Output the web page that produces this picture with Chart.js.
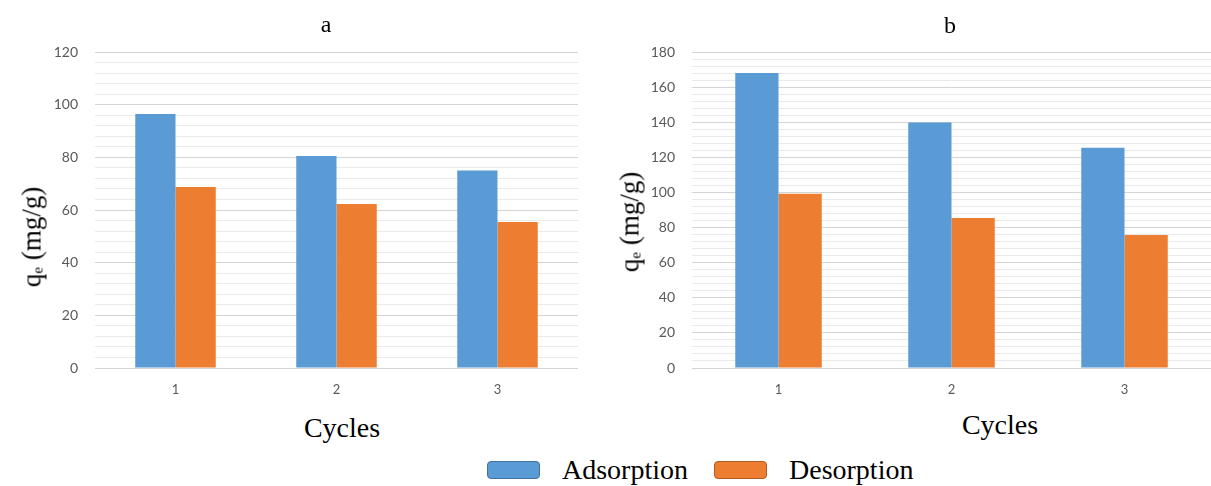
<!DOCTYPE html>
<html lang="en">
<head>
    <meta charset="UTF-8">
    <title>Adsorption / Desorption cycles</title>
    <script src="https://cdn.jsdelivr.net/npm/chart.js"></script>
    <style>
        body { margin: 0; background: #fff; }
        .janela { position: relative; width: 1211px; height: 486px; overflow: hidden; color: #000; }
        canvas { position: absolute; top: 0; }
        .txt, .legenda { font-family: 'Liberation Serif', 'Times New Roman', Times, 'DejaVu Serif', serif; }
        .txt { position: absolute; white-space: nowrap; transform: translate(-50%, -50%); }
        .ytitle { transform: translate(-50%, -50%) rotate(-90deg); font-size: 27px; }
        .ytitle sub { font-size: 15px; vertical-align: -2px; }
        .legenda { position: absolute; left: 487px; top: 454px; display: flex; align-items: center; font-size: 28px; }
        .caixa { width: 51px; height: 16px; border-radius: 4px; margin-right: 22px; }
    </style>
</head>
<body>
    <div class="janela">
        <canvas id="graficoA" width="600" height="400" style="left:0"></canvas>
        <canvas id="graficoB" width="611" height="400" style="left:600px"></canvas>

        <div class="txt" style="left:326px; top:24px; font-size:24px">a</div>
        <div class="txt" style="left:950px; top:25px; font-size:24px">b</div>
        <div class="txt ytitle" style="left:32px; top:237px">q<sub>e</sub> (mg/g)</div>
        <div class="txt ytitle" style="left:630px; top:222px">q<sub>e</sub> (mg/g)</div>
        <div class="txt" style="left:342px; top:428px; font-size:28px">Cycles</div>
        <div class="txt" style="left:1000px; top:425px; font-size:28px">Cycles</div>

        <div class="legenda">
            <div class="caixa" style="background:#5b9bd5; border:1px solid #41719c"></div>
            <span style="margin-right:26px">Adsorption</span>
            <div class="caixa" style="background:#ed7d31; border:1px solid #ae5a21"></div>
            <span>Desorption</span>
        </div>
    </div>

<script>
    // dados
    const ciclos = ['1', '2', '3'];
    const adsorcaoA = [96.5, 80.5, 75.0];
    const dessorcaoA = [68.7, 62.3, 55.4];
    const adsorcaoB = [168, 139.8, 125.5];
    const dessorcaoB = [99.2, 85.4, 75.8];
    const maxA = 120;
    const maxB = 180;

    const azul = '#5b9bd5';
    const laranja = '#ed7d31';

    function montarGrafico(id, ads, des, max, pad) {
        return new Chart(document.getElementById(id), {
            type: 'bar',
            data: {
                labels: ciclos,
                datasets: [
                    { label: 'Adsorption', data: ads, backgroundColor: azul, barPercentage: 1, categoryPercentage: 0.5 },
                    { label: 'Desorption', data: des, backgroundColor: laranja, barPercentage: 1, categoryPercentage: 0.5 }
                ]
            },
            options: {
                responsive: false,
                animation: false,
                layout: { padding: pad },
                plugins: { legend: { display: false }, tooltip: { enabled: false } },
                scales: {
                    x: {
                        grid: { display: false, drawTicks: false },
                        border: { display: false },
                        ticks: { color: '#595959', font: { family: 'Lato', size: 13 }, padding: 14 },
                        afterFit: s => { s.height = 30; }
                    },
                    y: {
                        min: 0,
                        max: max,
                        border: { display: false },
                        grid: {
                            drawTicks: false,
                            color: ctx => (ctx.tick && ctx.tick.value % 20 === 0) ? '#d4d4d4' : '#eaeaea',
                            lineWidth: 1
                        },
                        ticks: {
                            stepSize: 4,
                            autoSkip: false,
                            padding: 17,
                            color: '#595959',
                            font: { family: 'Lato', size: 14 },
                            callback: v => (v % 20 === 0 ? v : '')
                        },
                        afterFit: s => { s.width = 45; }
                    }
                }
            }
        });
    }

    montarGrafico('graficoA', adsorcaoA, dessorcaoA, maxA, { left: 50, right: 22, top: 52, bottom: 2 });
    montarGrafico('graficoB', adsorcaoB, dessorcaoB, maxB, { left: 47, right: 0, top: 52, bottom: 2 });
</script>
</body>
</html>
